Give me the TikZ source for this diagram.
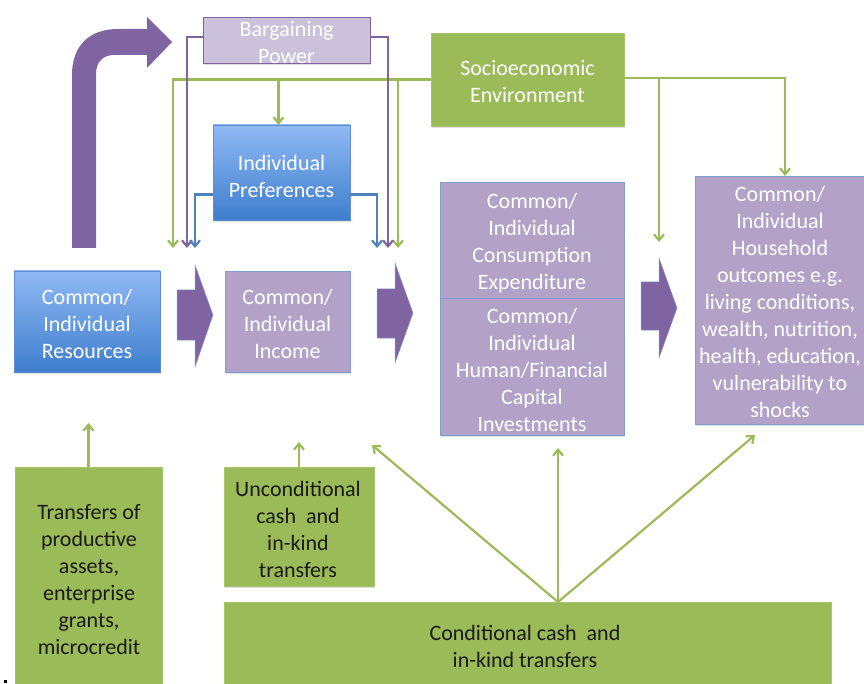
\documentclass[tikz,border=0pt]{standalone}
\usepackage{fontspec}
\setmainfont{Carlito}
\usetikzlibrary{arrows.meta,shadows}
\definecolor{boxpurple}{HTML}{B3A2C7}
\definecolor{boxpborder}{HTML}{7F9FD0}
\definecolor{lightpurple}{HTML}{CCC1DA}
\definecolor{darkpurple}{HTML}{8064A2}
\definecolor{greenfill}{HTML}{9BBB59}
\definecolor{greenborder}{HTML}{A6C46C}
\definecolor{blueT}{HTML}{90B9F4}
\definecolor{blueB}{HTML}{3E7ECD}
\definecolor{blueborder}{HTML}{5C8ED0}
\definecolor{blueline}{HTML}{4F81BD}
\definecolor{txtdark}{HTML}{1A1A1A}
\begin{document}
\begin{tikzpicture}[x=1pt,y=-1pt,
  box/.style={draw, line width=0.8pt, inner sep=0pt, outer sep=0pt,
    drop shadow={shadow xshift=1.2pt, shadow yshift=-1.8pt, opacity=0.25}},
  pbox/.style={box, fill=boxpurple, draw=boxpborder},
  lpbox/.style={box, fill=lightpurple, draw=darkpurple},
  bbox/.style={box, top color=blueT, bottom color=blueB, draw=blueborder},
  gbox/.style={box, fill=greenfill, draw=greenborder},
  txt/.style={font=\fontsize{22}{27}\selectfont, align=center, text=white, inner sep=0pt},
  dtxt/.style={txt, text=txtdark},
  tip/.style={-{Straight Barb[length=6pt,width=10pt]}},
  gl/.style={draw=greenfill, line width=2.2pt, tip},
  pl/.style={draw=darkpurple, line width=2.2pt, tip},
  bl/.style={draw=blueline, line width=2.2pt, tip},
  chev/.style={fill=darkpurple, draw=boxpborder, line width=0.5pt}
]
\useasboundingbox (0,0) rectangle (864,684);

% ---- boxes ----
\node[lpbox, minimum width=167pt, minimum height=46pt] (bp) at (286.5,40) {};
\node[txt] (bpt) at (286.5,43) {Bargaining\\Power};

\node[gbox, minimum width=193pt, minimum height=93pt] (soc) at (527.5,79.5) {};
\node[txt] (soct) at (527.5,81.5) {Socioeconomic\\Environment};

\node[bbox, minimum width=137pt, minimum height=95pt] (pref) at (281.5,172.5) {};
\node[txt] (preft) at (281.5,176.5) {Individual\\Preferences};

\node[bbox, minimum width=146pt, minimum height=101pt] (res) at (87,321.5) {};
\node[txt] (rest) at (87,324) {Common/\\Individual\\Resources};

\node[pbox, minimum width=125pt, minimum height=101pt] (inc) at (287.5,321.5) {};
\node[txt] (inct) at (287.5,324) {Common/\\Individual\\Income};

\node[pbox, minimum width=184pt, minimum height=116pt] (cons) at (532,240) {};
\node[txt] (const) at (532,243) {Common/\\Individual\\Consumption\\Expenditure};
\node[pbox, minimum width=184pt, minimum height=137pt] (inv) at (532,366.5) {};
\node[txt] (invt) at (532,370) {Common/\\Individual\\Human/Financial\\Capital\\Investments};

\node[pbox, minimum width=180pt, minimum height=248pt] (hh) at (785,300) {};
\node[txt] (hht) at (780,302) {Common/\\Individual\\Household\\outcomes e.g.\\living conditions,\\wealth, nutrition,\\health, education,\\vulnerability to\\shocks};

\node[gbox, minimum width=147pt, minimum height=225pt] (tr) at (88.5,579.5) {};
\node[dtxt] (trt) at (89,580) {Transfers of\\productive\\assets,\\enterprise\\grants,\\microcredit};

\node[gbox, minimum width=150pt, minimum height=119pt] (unc) at (299,526.5) {};
\node[dtxt] (unct) at (298,529.5) {Unconditional\\cash\ \ and\\in-kind\\transfers};

\node[gbox, minimum width=607pt, minimum height=90pt] (cond) at (527.5,647) {};
\node[dtxt] (condt) at (525,646.5) {Conditional cash\ \ and\\in-kind transfers};

% ---- chevron arrows ----
\draw[chev] (177,290) -- (195,290) -- (195,265) -- (213,315) -- (195,367) -- (195,340) -- (177,340) -- cycle;
\draw[chev] (377,289) -- (395,289) -- (395,263) -- (413,313) -- (395,363) -- (395,338) -- (377,338) -- cycle;
\draw[chev] (641,282) -- (659,282) -- (659,258) -- (677,308) -- (659,358) -- (659,330) -- (641,330) -- cycle;

% ---- big bent arrow ----
\fill[darkpurple] (72,248) -- (72,75) .. controls (72,45) and (90,29) .. (118,29) -- (147,29) -- (147,17) -- (172,42) -- (147,68) -- (147,55) -- (114,55) .. controls (103,55) and (96,62) .. (96,74) -- (96,248) -- cycle;

% ---- coordinates ----
\coordinate (gL) at (173,248);
\coordinate (pL) at (187,248);
\coordinate (bL) at (195,248);
\coordinate (bR) at (377,248);
\coordinate (pR) at (388,248);
\coordinate (gR) at (398,248);
\coordinate (gM) at (659,242);
\coordinate (tA) at (88.5,423);
\coordinate (uA) at (299,442);
\coordinate (cS) at (558,602);
\coordinate (cA1) at (372,445);
\coordinate (cA2) at (558,448);
\coordinate (cA3) at (755,435);

% ---- connectors ----
\draw[gl] (soc.west) -| (gL);
\draw[gl] (gR |- soc.west) -- (gR);
\draw[gl] ([xshift=-3pt]pref.north |- soc.west) -- ([xshift=-3pt]pref.north);
\draw[pl] ([yshift=3pt]bp.west) -| (pL);
\draw[pl] ([yshift=3pt]bp.east) -| (pR);
\draw[bl] ([yshift=-22pt]pref.west) -| (bL);
\draw[bl] ([yshift=-22pt]pref.east) -| (bR);
\draw[gl] ([yshift=1.5pt]soc.east) -| (hh.north);
\draw[gl] (gM |- soc.east) -- (gM);

\draw[gl] (tr.north) -- (tA);
\draw[gl] (unc.north) -- (uA);
\draw[gl] (cS) -- (cA1);
\draw[gl] (cS) -- (cA2);
\draw[gl] (cS) -- (cA3);

% small dot
\fill[black] (3.5,679.5) rectangle (6.5,682.5);
\end{tikzpicture}
\end{document}
